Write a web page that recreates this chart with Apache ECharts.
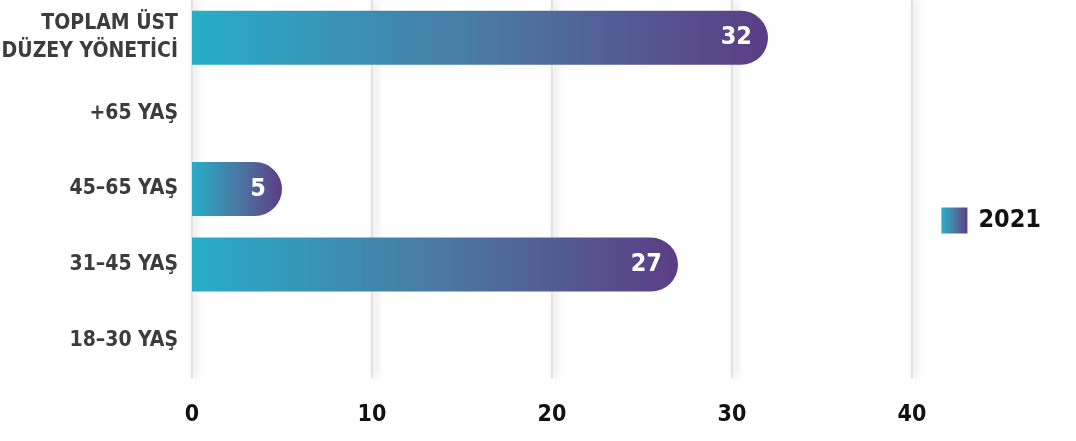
<!DOCTYPE html>
<html>
<head>
<meta charset="utf-8">
<script src="https://cdn.jsdelivr.net/npm/echarts@6/dist/echarts.min.js"></script>
<style>
html,body{margin:0;padding:0;background:#fff;}
#c{width:1076px;height:441px;}
</style>
</head>
<body>
<div id="c"></div>
<script>
const categories = ['18–30 YAŞ', '31–45 YAŞ', '45–65 YAŞ', '+65 YAŞ', 'TOPLAM ÜST\nDÜZEY YÖNETİCİ'];
const values2021 = [0, 27, 5, 0, 32];
const seriesName = '2021';
const xTicks = { min: 0, max: 40, interval: 10 };

const FONT = '"DejaVu Sans Condensed", "Liberation Sans Narrow", sans-serif';
const grad = new echarts.graphic.LinearGradient(0, 0, 1, 0, [
  { offset: 0, color: '#27adc8' },
  { offset: 0.5, color: '#4a7aa3' },
  { offset: 1, color: '#5c3d85' }
]);

const chart = echarts.init(document.getElementById('c'), null, { renderer: 'canvas' });
chart.setOption({
  animation: false,
  backgroundColor: '#fff',
  grid: { left: 192, right: 164, top: 0, bottom: 63, containLabel: false, outerBoundsMode: 'none' },
  legend: {
    right: 30, top: 'middle', orient: 'vertical',
    icon: 'rect', itemWidth: 26, itemHeight: 26, itemGap: 10,
    textStyle: { fontFamily: FONT, fontWeight: 'bold', fontSize: 25, color: '#111', padding: [0, 0, 0, 6] },
    data: [seriesName]
  },
  xAxis: {
    type: 'value', min: xTicks.min, max: xTicks.max, interval: xTicks.interval,
    axisLine: { show: false }, axisTick: { show: false },
    axisLabel: { fontFamily: FONT, fontWeight: 'bold', fontSize: 23, color: '#111', margin: 26 },
    splitLine: { show: true, lineStyle: { color: '#e2e2e2', width: 2, shadowBlur: 7, shadowColor: 'rgba(0,0,0,0.22)', shadowOffsetX: 3 } }
  },
  yAxis: {
    type: 'category', data: categories,
    axisLine: { show: false }, axisTick: { show: false },
    axisLabel: { fontFamily: FONT, fontWeight: 'bold', fontSize: 21, color: '#3c3c3c', margin: 14, lineHeight: 28, align: 'right' }
  },
  series: [{
    name: seriesName, type: 'bar', data: values2021,
    barWidth: 54,
    itemStyle: { color: grad, borderRadius: [0, 27, 27, 0] },
    label: {
      show: true, position: 'insideRight', distance: 16,
      formatter: p => p.value > 0 ? p.value : '',
      fontFamily: FONT, fontWeight: 'bold', fontSize: 25, color: '#fff'
    }
  }]
});
</script>
</body>
</html>
